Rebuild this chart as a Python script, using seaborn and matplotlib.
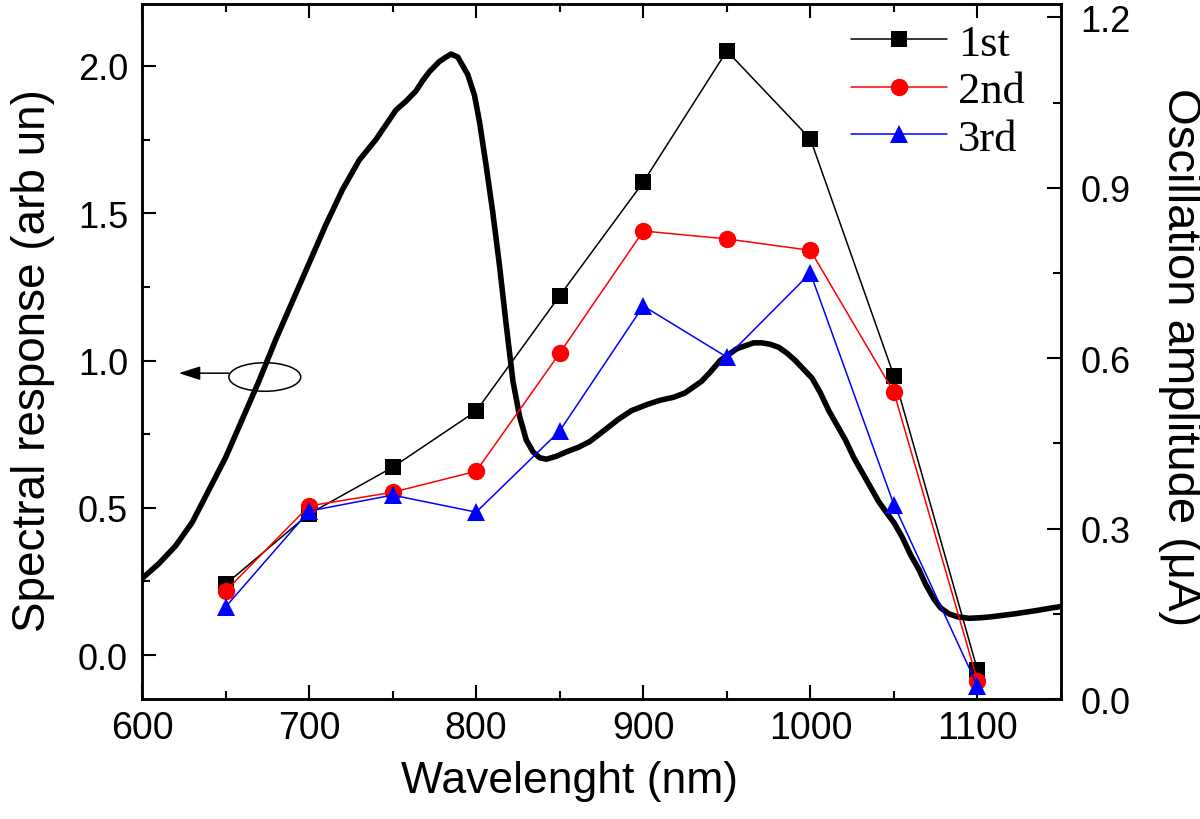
import matplotlib
matplotlib.use("Agg")
import matplotlib.pyplot as plt
from matplotlib.patches import Ellipse
from matplotlib.ticker import MultipleLocator, FormatStrFormatter
import seaborn as sns

# spectral response curve (left axis)
curve_wl = [600, 610, 620, 630, 640, 650, 660, 670, 680, 690, 700, 710, 720, 730,
            740, 746, 752, 758, 764, 768, 772, 778, 782, 785, 789, 792, 795, 799,
            802, 806, 810, 814, 818, 822, 826, 830, 834, 838, 842, 848, 854, 861,
            868, 876, 885, 893, 902, 910, 918, 925, 930, 935, 940, 946, 951, 956,
            961, 966, 971, 976, 981, 986, 991, 996, 1001, 1006, 1011, 1016, 1021,
            1026, 1031, 1036, 1041, 1046, 1050, 1055, 1060, 1065, 1069, 1074, 1078,
            1083, 1088, 1095, 1102, 1108, 1115, 1122, 1129, 1136, 1142, 1150]
curve_resp = [0.26, 0.31, 0.37, 0.45, 0.56, 0.67, 0.80, 0.93, 1.07, 1.20, 1.33, 1.46,
              1.58, 1.68, 1.75, 1.80, 1.85, 1.88, 1.915, 1.95, 1.98, 2.015, 2.03, 2.04,
              2.03, 2.00, 1.97, 1.90, 1.81, 1.66, 1.50, 1.32, 1.12, 0.93, 0.81, 0.73,
              0.69, 0.67, 0.665, 0.675, 0.69, 0.705, 0.725, 0.76, 0.80, 0.83, 0.85,
              0.865, 0.875, 0.89, 0.91, 0.93, 0.96, 1.00, 1.02, 1.04, 1.05, 1.06, 1.06,
              1.055, 1.045, 1.025, 1.00, 0.97, 0.94, 0.89, 0.83, 0.78, 0.73, 0.67,
              0.62, 0.57, 0.52, 0.48, 0.45, 0.40, 0.34, 0.29, 0.24, 0.19, 0.16, 0.14,
              0.13, 0.125, 0.127, 0.13, 0.135, 0.14, 0.146, 0.152, 0.158, 0.165]

# oscillation amplitude (right axis)
osc_wl = [650, 700, 750, 800, 850, 900, 950, 1000, 1050, 1100]
amp_1st = [0.202, 0.326, 0.408, 0.507, 0.710, 0.910, 1.141, 0.986, 0.569, 0.051]
amp_2nd = [0.190, 0.340, 0.364, 0.401, 0.609, 0.824, 0.810, 0.790, 0.540, 0.032]
amp_3rd = [0.162, 0.331, 0.359, 0.329, 0.472, 0.692, 0.602, 0.750, 0.342, 0.023]

sns.set_theme(style="ticks")
plt.rcParams["font.family"] = ["Liberation Sans", "DejaVu Sans"]
plt.rcParams["axes.linewidth"] = 1.8
plt.rcParams["text.color"] = "black"
plt.rcParams["axes.labelcolor"] = "black"

fig = plt.figure(figsize=(12, 8.2), dpi=100, facecolor="white")
ax = fig.add_axes([0.1183, 0.1463, 0.7659, 0.8476])
ax2 = ax.twinx()

sns.lineplot(x=curve_wl, y=curve_resp, ax=ax, color="black", linewidth=4,
             sort=False, estimator=None)

series = [("1st", amp_1st, "black", "s", 11.5),
          ("2nd", amp_2nd, "red", "o", 12.5),
          ("3rd", amp_3rd, "blue", "^", 13.5)]
for label, vals, color, marker, ms in series:
    sns.lineplot(x=osc_wl, y=vals, ax=ax2, color=color, marker=marker,
                 markersize=ms, markeredgewidth=0, linewidth=1.1,
                 label=label, estimator=None)

# ellipse + arrow pointing at the left axis
ax.add_patch(Ellipse((673.5, 0.944), 43, 0.097, fill=False, edgecolor="black",
                     linewidth=1.1))
ax.annotate("", xy=(622, 0.957), xytext=(652, 0.957),
            arrowprops=dict(arrowstyle="-|>,head_length=1.1,head_width=0.35",
                            mutation_scale=12, color="black", lw=1.1,
                            shrinkA=0, shrinkB=0))

ax.set_xlim(600, 1150)
ax.set_ylim(-0.149, 2.21)
ax2.set_ylim(0, 1.2236)

ax.xaxis.set_major_locator(MultipleLocator(100))
ax.xaxis.set_minor_locator(MultipleLocator(50))
ax.yaxis.set_major_locator(MultipleLocator(0.5))
ax.yaxis.set_minor_locator(MultipleLocator(0.25))
ax.yaxis.set_major_formatter(FormatStrFormatter("%.1f"))
ax2.yaxis.set_major_locator(MultipleLocator(0.3))
ax2.yaxis.set_minor_locator(MultipleLocator(0.15))
ax2.yaxis.set_major_formatter(FormatStrFormatter("%.1f"))

for a in (ax, ax2):
    a.tick_params(which="both", direction="in", width=1.5, color="black",
                  labelcolor="black", labelsize=26)
    a.tick_params(which="major", length=10)
    a.tick_params(which="minor", length=5.5)
    for sp in a.spines.values():
        sp.set_visible(True)
        sp.set_color("black")
        sp.set_linewidth(1.8)
ax.tick_params(axis="x", which="both", top=True, pad=8, labelsize=27)
ax.tick_params(axis="y", which="both", right=False, pad=10)
ax2.tick_params(axis="y", which="both", pad=14)

ax.set_xlabel("Wavelenght (nm)", fontsize=32, color="black")
ax.xaxis.set_label_coords(0.4647, -0.088)
ax.set_ylabel("Spectral response (arb un)", fontsize=33, rotation=90, color="black",
              ha="center", va="center", rotation_mode="anchor")
ax.yaxis.set_label_coords(-0.1186, 0.489)
ax2.set_ylabel("Oscillation amplitude (\u03bcA)", fontsize=34, rotation=-90,
               color="black", ha="center", va="center", rotation_mode="anchor")
ax2.yaxis.set_label_coords(1.1295, 0.4935)

leg = ax2.legend(loc="upper left", bbox_to_anchor=(0.7715, 0.972), frameon=False,
                 prop={"family": ["Liberation Serif", "DejaVu Serif"], "size": 32},
                 handlelength=2.16, handletextpad=0.25, labelspacing=0.17,
                 borderpad=0, borderaxespad=0)
for t in leg.get_texts():
    t.set_color("black")

fig.savefig("out.png", dpi=100, facecolor="white")
